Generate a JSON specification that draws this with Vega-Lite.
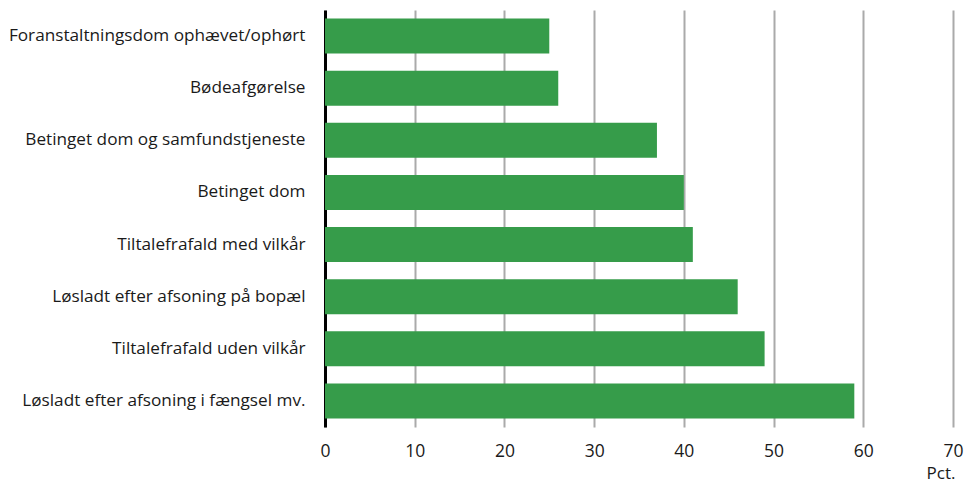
{
  "$schema": "https://vega.github.io/schema/vega-lite/v6.json",
  "width": 628,
  "height": 417,
  "autosize": "none",
  "padding": {"left": 325, "top": 10, "right": 13, "bottom": 58},
  "background": "white",
  "config": {"view": {"stroke": null}, "font": "Open Sans"},
  "data": {"values": [
    {"kategori": "Foranstaltningsdom ophævet/ophørt", "pct": 25},
    {"kategori": "Bødeafgørelse", "pct": 26},
    {"kategori": "Betinget dom og samfundstjeneste", "pct": 37},
    {"kategori": "Betinget dom", "pct": 40},
    {"kategori": "Tiltalefrafald med vilkår", "pct": 41},
    {"kategori": "Løsladt efter afsoning på bopæl", "pct": 46},
    {"kategori": "Tiltalefrafald uden vilkår", "pct": 49},
    {"kategori": "Løsladt efter afsoning i fængsel mv.", "pct": 59}
  ]},
  "mark": {"type": "bar", "color": "#369c4a"},
  "encoding": {
    "y": {
      "field": "kategori", "type": "nominal", "sort": null,
      "scale": {"paddingInner": 0.33, "paddingOuter": 0.165},
      "axis": {
        "title": null, "ticks": false, "grid": false,
        "domainColor": "#000000", "domainWidth": 3,
        "labelFontSize": 17.2, "labelColor": "#1a1a1a", "labelPadding": 20,
        "labelLimit": 400
      }
    },
    "x": {
      "field": "pct", "type": "quantitative",
      "scale": {"domain": [0, 70], "nice": false},
      "axis": {
        "values": [0, 10, 20, 30, 40, 50, 60, 70],
        "domain": false, "ticks": false, "grid": true,
        "gridColor": "#aaaaaa", "gridWidth": 2,
        "labelFontSize": 17.5, "labelColor": "#1a1a1a", "labelPadding": 15,
        "labelFlush": false,
        "title": "Pct.", "titleFontSize": 17, "titleFontWeight": "normal",
        "titleColor": "#1a1a1a", "titleAlign": "right", "titleAnchor": null,
        "titleX": 630, "titleY": 51, "titleBaseline": "alphabetic"
      }
    }
  }
}
